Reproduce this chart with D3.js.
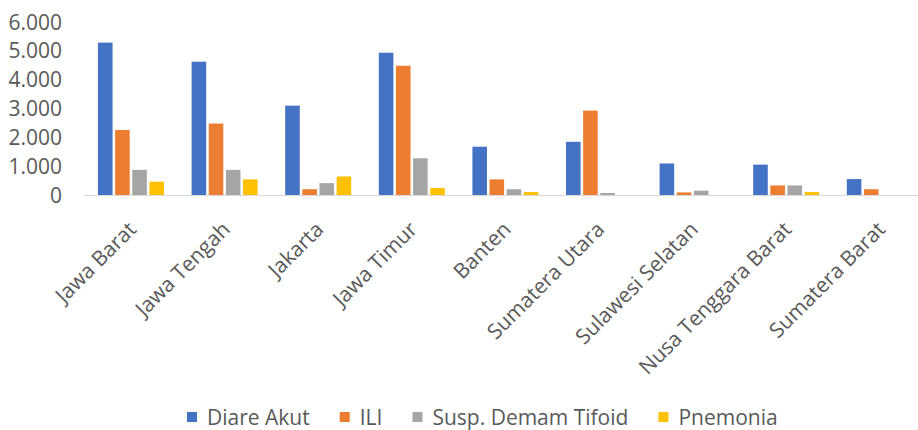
<!DOCTYPE html>
<html>
<head>
<meta charset="utf-8">
<script src="https://cdn.jsdelivr.net/npm/d3@7"></script>
<style>
  html, body { margin: 0; padding: 0; background: #fff; }
  svg { display: block; font-family: "Open Sans", "Noto Sans", sans-serif; }
</style>
</head>
<body>
<svg id="chart" width="918" height="430"></svg>
<script>
// Provinces (x categories)
const provinces = ["Jawa Barat", "Jawa Tengah", "Jakarta", "Jawa Timur", "Banten",
  "Sumatera Utara", "Sulawesi Selatan", "Nusa Tenggara Barat", "Sumatera Barat"];

// Case counts per disease
const diareAkut   = [5270, 4610, 3090, 4920, 1670, 1840, 1090, 1050, 550];
const ili         = [2250, 2470, 200, 4470, 540, 2920, 90, 330, 200];
const tifoid      = [870, 870, 410, 1270, 200, 70, 150, 330, 0];
const pnemonia    = [460, 540, 640, 240, 100, 0, 0, 100, 0];

const seriesNames = ["Diare Akut", "ILI", "Susp. Demam Tifoid", "Pnemonia"];
const seriesValues = [diareAkut, ili, tifoid, pnemonia];
const seriesColors = ["#4472C4", "#ED7D31", "#A5A5A5", "#FFC000"];

// Y axis ticks
const yTicks = [0, 1000, 2000, 3000, 4000, 5000, 6000];

const idLocale = d3.formatLocale({ decimal: ",", thousands: ".", grouping: [3], currency: ["Rp", ""] });
const fmt = idLocale.format(",d");

const svg = d3.select("#chart");
const textColor = "#595959";
const fontSize = 21;

const x0 = d3.scaleBand()
  .domain(provinces)
  .range([84.2, 926.6])
  .paddingInner(0.295)
  .paddingOuter(0.1475);

const x1 = d3.scaleBand()
  .domain(seriesNames)
  .range([0, x0.bandwidth()])
  .paddingInner(0.15)
  .paddingOuter(0);

const y = d3.scaleLinear().domain([0, 6000]).range([195, 21.5]);

// Bars
const groups = svg.append("g").selectAll("g")
  .data(provinces)
  .join("g")
  .attr("transform", d => `translate(${x0(d)},0)`);

groups.selectAll("rect")
  .data((d, i) => seriesNames.map((s, k) => ({ s, v: seriesValues[k][i], c: seriesColors[k] })))
  .join("rect")
  .attr("x", d => x1(d.s))
  .attr("width", x1.bandwidth())
  .attr("y", d => y(d.v))
  .attr("height", d => y(0) - y(d.v))
  .attr("fill", d => d.c);

// Category axis line
svg.append("line")
  .attr("x1", 84).attr("x2", 918)
  .attr("y1", y(0) + 0.5).attr("y2", y(0) + 0.5)
  .attr("stroke", "#d9d9d9")
  .attr("stroke-width", 1.2);

// Y tick labels
svg.append("g").selectAll("text")
  .data(yTicks)
  .join("text")
  .attr("x", 62)
  .attr("y", d => y(d))
  .attr("text-anchor", "end")
  .attr("dominant-baseline", "central")
  .attr("fill", textColor)
  .attr("font-size", fontSize)
  .text(d => fmt(d));

// Rotated category labels
svg.append("g").selectAll("text")
  .data(provinces)
  .join("text")
  .attr("transform", d => `translate(${x0(d) + x0.bandwidth() / 2 + 1},225) rotate(-45)`)
  .attr("text-anchor", "end")
  .attr("dominant-baseline", "central")
  .attr("fill", textColor)
  .attr("font-size", fontSize)
  .text(d => d);

// Legend
const legend = svg.append("g");
let lx = 187;
const ly = 417;
seriesNames.forEach((name, k) => {
  legend.append("rect")
    .attr("x", lx).attr("y", ly - 5)
    .attr("width", 10).attr("height", 10)
    .attr("fill", seriesColors[k]);
  const t = legend.append("text")
    .attr("x", lx + 20).attr("y", ly)
    .attr("dominant-baseline", "central")
    .attr("fill", textColor)
    .attr("font-size", fontSize)
    .text(name);
  lx += 20 + t.node().getComputedTextLength() + 30;
});
</script>
</body>
</html>
